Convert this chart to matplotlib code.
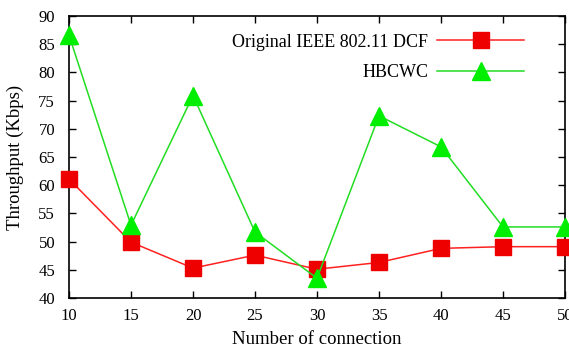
import matplotlib
matplotlib.use("Agg")
import matplotlib.pyplot as plt

connections = [10, 15, 20, 25, 30, 35, 40, 45, 50]
dcf = [61.1, 49.9, 45.3, 47.6, 45.1, 46.3, 48.8, 49.1, 49.1]
hbcwc = [86.6, 52.9, 75.9, 51.7, 43.5, 72.3, 66.8, 52.6, 52.6]
yticks = [40, 45, 50, 55, 60, 65, 70, 75, 80, 85, 90]

plt.rcParams['font.family'] = ['Liberation Serif', 'DejaVu Serif']

fig = plt.figure(figsize=(5.69, 3.52), dpi=100)
ax = fig.add_axes([69/569, 1-298/352, (565-69)/569, (298-16)/352])

ax.plot(connections, dcf, color='#ff2020', lw=1.1, marker='s', ms=11,
        mfc='#ee0000', mec='#ee0000', label='Original IEEE 802.11 DCF', clip_on=False, zorder=3)
ax.plot(connections, hbcwc, color='#22dd22', lw=1.1, marker='^', ms=13,
        mfc='#00ee00', mec='#00ee00', label='HBCWC', clip_on=False, zorder=4)

ax.set_xlim(10, 50)
ax.set_ylim(40, 90)
ax.set_xticks(connections)
ax.set_yticks(yticks)
ax.tick_params(direction='in', top=True, right=True, length=5, width=1,
               labelsize=12)
ax.tick_params(axis='x', pad=7)
ax.tick_params(axis='y', pad=10)
for s in ax.spines.values():
    s.set_linewidth(1.2)

ax.set_xlabel('Number of connection', fontsize=13.5, labelpad=5)
ax.set_ylabel('Throughput (Kbps)', fontsize=13.5, labelpad=10)

leg = ax.legend(loc='upper right', bbox_to_anchor=(0.95, 0.995), markerfirst=False,
                frameon=False, fontsize=13, handlelength=4.8, labelspacing=0.75,
                handletextpad=0.5)

fig.savefig('out.png', dpi=100)
